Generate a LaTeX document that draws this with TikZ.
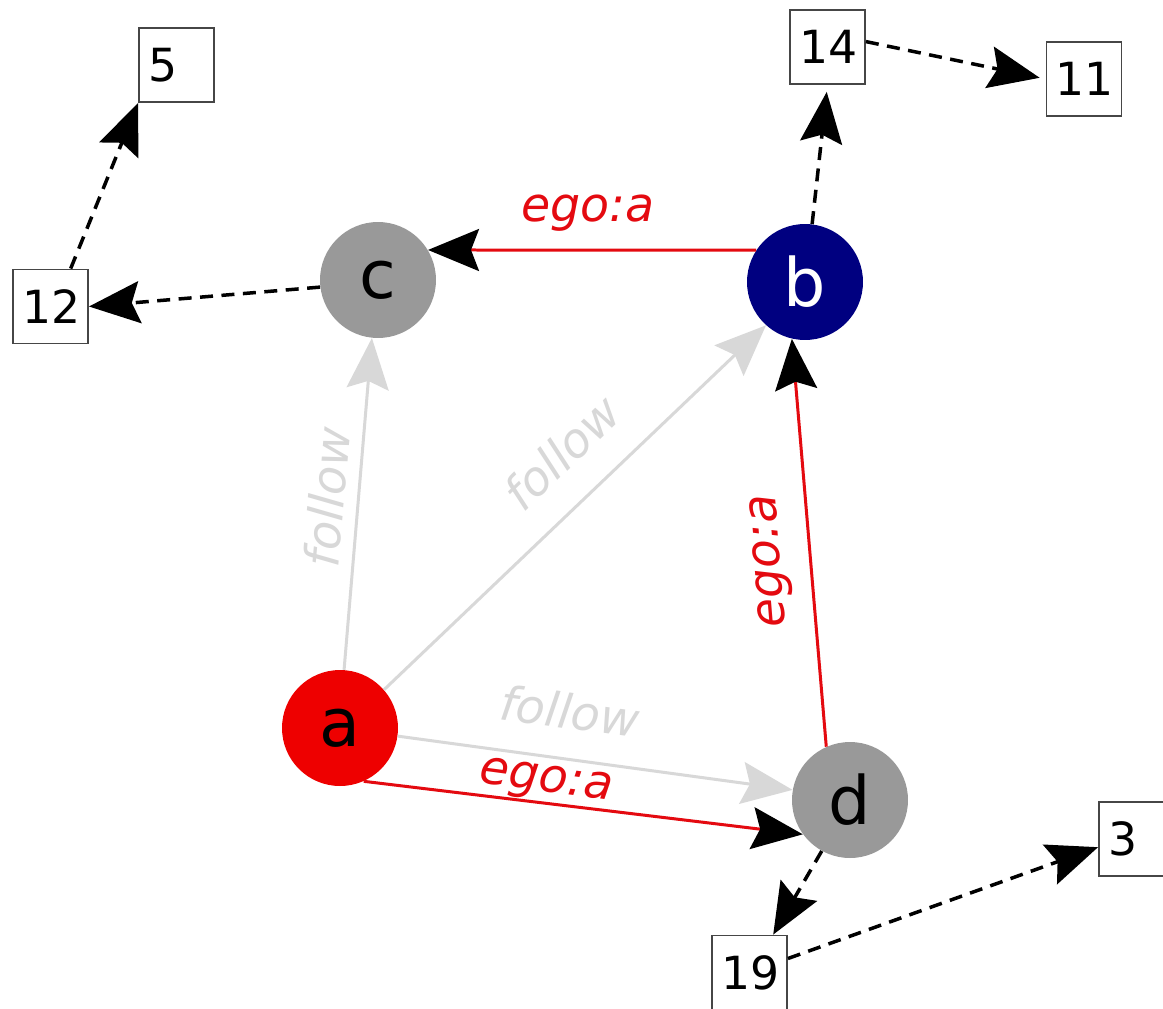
\documentclass[tikz,border=0pt]{standalone}
\usepackage{fontspec}
\setmainfont{DejaVu Sans}
\usetikzlibrary{arrows.meta}
\definecolor{ared}{RGB}{238,0,0}
\definecolor{egored}{RGB}{228,10,16}
\definecolor{bnavy}{RGB}{0,0,128}
\definecolor{ngray}{RGB}{153,153,153}
\definecolor{folgray}{RGB}{216,216,216}
\definecolor{boxline}{RGB}{70,70,70}
\begin{document}
\begin{tikzpicture}[x=0.02cm,y=-0.02cm,
  vert/.style={circle, minimum size=2.32cm, inner sep=0pt, font=\fontsize{38}{40}\selectfont},
  idbox/.style={draw=boxline, fill=white, line width=1.1pt, minimum width=1.5cm, minimum height=1.48cm,
    text width=1.14cm, inner xsep=0.18cm, inner ysep=0pt, align=left, font=\fontsize{26}{28}\selectfont},
  egolab/.style={text=egored, inner sep=0pt, font=\fontsize{27}{29}\selectfont\itshape},
  follab/.style={text=folgray, inner sep=0pt, font=\fontsize{27}{29}\selectfont\itshape},
  tipblack/.style={-{Stealth[length=1.02cm,width=0.84cm,inset=0.16cm,color=black]}},
  egoedge/.style={draw=egored, line width=0.06cm, tipblack},
  foledge/.style={draw=folgray, line width=0.06cm, -{Stealth[length=1.02cm,width=0.84cm,inset=0.16cm]}},
  dashedge/.style={draw=black, line width=0.07cm, dash pattern=on 0.26cm off 0.17cm, tipblack}
]
\fill[white] (0,0) rectangle (1163,1008);
\useasboundingbox (0,0) rectangle (1163,1008);
\clip (0,0) rectangle (1163,1008);

% vertices
\node[vert, fill=ared] (a) at (340,728) {a};
\node[vert, fill=bnavy, text=white] (b) at (805,282) {b};
\node[vert, fill=ngray] (c) at (378,280) {c};
\node[vert, fill=ngray] (d) at (850,800) {d};

% id boxes
\node[idbox] (n5) at (176.5,65) {5};
\node[idbox] (n14) at (827.5,47) {14};
\node[idbox] (n11) at (1084,79) {11};
\node[idbox] (n12) at (50.5,306.5) {12};
\node[idbox] (n19) at (749.5,972.5) {19};
\node[idbox] (n3) at (1136.5,839) {3};

% follow edges
\draw[foledge] (a.86) -- (c.-96);
\draw[foledge] (a.41) -- (b.228);
\draw[foledge] (a.-8) -- (d.170);

% ego edges
\draw[egoedge] (b.147) -- (c.31);
\draw[egoedge] (d.114) -- (b.-103);
\draw[egoedge] (a.-66) -- (d.216);

% dashed edges
\draw[dashedge] (c.187) -- (n12.east);
\draw[dashedge] (n12.62) -- (n5.south west);
\draw[dashedge, shorten >=0.14cm] (b.83) -- (n14.south);
\draw[dashedge, shorten >=0.12cm] (n14.8) -- (n11.west);
\draw[dashedge] (d.-119) -- (n19.58);
\draw[dashedge] (n19.20) -- (n3.192);

% labels
\node[egolab] (l1) at (588,213) {ego:a};
\node[egolab, rotate=94.6] (l2) at (772,561) {ego:a};
\node[egolab, rotate=-7.6] (l3) at (546,783) {ego:a};
\node[follab, rotate=85] (l4) at (327,497) {follow};
\node[follab, rotate=44] (l5) at (562,452) {follow};
\node[follab, rotate=-7.6] (l6) at (570,711) {follow};
\end{tikzpicture}
\end{document}
